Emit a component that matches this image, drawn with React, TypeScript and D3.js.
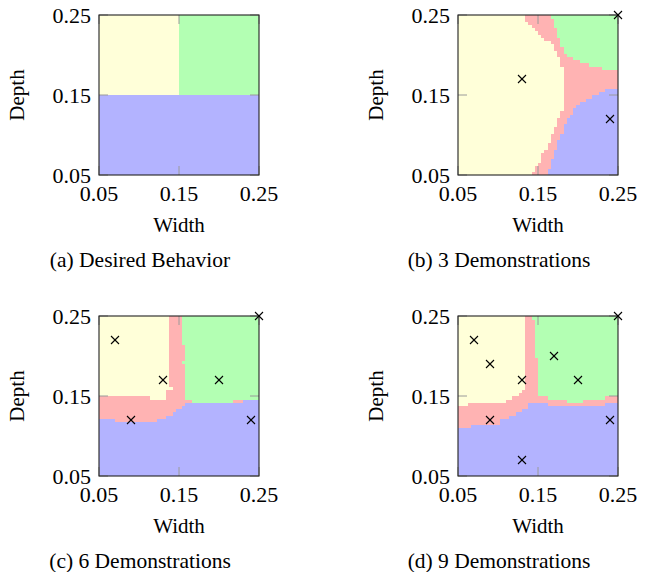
import React from 'react';
import * as d3 from 'd3';

type Pt = [number, number];

const tickValues = [0.05, 0.15, 0.25];
const tickLabels = ['0.05', '0.15', '0.25'];
const xLabel = 'Width';
const yLabel = 'Depth';
const captions = ['(a) Desired Behavior', '(b) 3 Demonstrations', '(c) 6 Demonstrations', '(d) 9 Demonstrations'];

// Region outlines (Width, Depth); anything outside them is the red "uncertain" class
const yellowA: Pt[] = [[0.05, 0.25], [0.15, 0.25], [0.15, 0.15], [0.05, 0.15]];
const greenA: Pt[] = [[0.15, 0.25], [0.25, 0.25], [0.25, 0.15], [0.15, 0.15]];
const blueA: Pt[] = [[0.05, 0.15], [0.25, 0.15], [0.25, 0.05], [0.05, 0.05]];

const yellowB: Pt[] = [[0.05, 0.25], [0.132, 0.25], [0.138, 0.241], [0.146, 0.231], [0.156, 0.222], [0.167, 0.216], [0.171, 0.208], [0.175, 0.2], [0.179, 0.191], [0.182, 0.181], [0.183, 0.17], [0.183, 0.137], [0.18, 0.129], [0.176, 0.121], [0.173, 0.114], [0.169, 0.104], [0.166, 0.096], [0.162, 0.087], [0.157, 0.079], [0.154, 0.07], [0.149, 0.062], [0.141, 0.05], [0.05, 0.05]];
const greenB: Pt[] = [[0.166, 0.25], [0.25, 0.25], [0.25, 0.182], [0.23, 0.184], [0.217, 0.187], [0.205, 0.191], [0.19, 0.197], [0.183, 0.204], [0.178, 0.216], [0.174, 0.229], [0.17, 0.241]];
const blueB: Pt[] = [[0.25, 0.05], [0.25, 0.159], [0.238, 0.159], [0.228, 0.154], [0.215, 0.147], [0.205, 0.141], [0.196, 0.133], [0.19, 0.125], [0.184, 0.112], [0.179, 0.1], [0.174, 0.087], [0.169, 0.075], [0.165, 0.062], [0.162, 0.05]];

const yellowC: Pt[] = [[0.05, 0.25], [0.137, 0.25], [0.137, 0.163], [0.141, 0.163], [0.141, 0.157], [0.134, 0.157], [0.134, 0.145], [0.113, 0.145], [0.113, 0.15], [0.05, 0.15]];
const greenC: Pt[] = [[0.154, 0.25], [0.25, 0.25], [0.25, 0.146], [0.228, 0.146], [0.228, 0.1446], [0.219, 0.1446], [0.219, 0.141], [0.179, 0.141], [0.179, 0.142], [0.167, 0.142], [0.167, 0.146], [0.159, 0.146], [0.159, 0.175], [0.158, 0.175], [0.158, 0.191], [0.154, 0.191], [0.154, 0.195], [0.158, 0.195], [0.158, 0.216], [0.154, 0.216]];
const blueC: Pt[] = [[0.05, 0.05], [0.25, 0.05], [0.25, 0.1446], [0.228, 0.1446], [0.228, 0.141], [0.159, 0.141], [0.159, 0.138], [0.154, 0.138], [0.154, 0.133], [0.148, 0.133], [0.148, 0.129], [0.141, 0.129], [0.141, 0.1246], [0.134, 0.1246], [0.134, 0.1204], [0.121, 0.1204], [0.121, 0.117], [0.071, 0.117], [0.071, 0.1204], [0.05, 0.1204]];

const yellowD: Pt[] = [[0.05, 0.25], [0.134, 0.25], [0.134, 0.157], [0.13, 0.157], [0.13, 0.154], [0.125, 0.154], [0.125, 0.15], [0.118, 0.15], [0.118, 0.1446], [0.112, 0.1446], [0.112, 0.141], [0.063, 0.141], [0.063, 0.137], [0.05, 0.137]];
const greenD: Pt[] = [[0.141, 0.25], [0.25, 0.25], [0.25, 0.15], [0.233, 0.15], [0.233, 0.1446], [0.205, 0.1446], [0.205, 0.141], [0.188, 0.141], [0.188, 0.1446], [0.163, 0.1446], [0.163, 0.15], [0.1496, 0.15], [0.1496, 0.1996], [0.146, 0.1996], [0.146, 0.2454], [0.141, 0.2454]];
const blueD: Pt[] = [[0.05, 0.05], [0.25, 0.05], [0.25, 0.141], [0.233, 0.141], [0.233, 0.138], [0.163, 0.138], [0.163, 0.141], [0.138, 0.141], [0.138, 0.133], [0.1296, 0.133], [0.1296, 0.129], [0.121, 0.129], [0.121, 0.1246], [0.113, 0.1246], [0.113, 0.1204], [0.1004, 0.1204], [0.1004, 0.116], [0.067, 0.116], [0.067, 0.112], [0.05, 0.112]];

// Demonstrations (Width, Depth)
const demosA: Pt[] = [];
const demosB: Pt[] = [[0.13, 0.17], [0.24, 0.12], [0.25, 0.25]];
const demosC: Pt[] = [[0.07, 0.22], [0.13, 0.17], [0.2, 0.17], [0.09, 0.12], [0.24, 0.12], [0.25, 0.25]];
const demosD: Pt[] = [[0.07, 0.22], [0.09, 0.19], [0.13, 0.17], [0.17, 0.2], [0.2, 0.17], [0.09, 0.12], [0.24, 0.12], [0.13, 0.07], [0.25, 0.25]];

const COLORS = { yellow: '#ffffd9', green: '#b3ffb3', blue: '#b3b3ff', red: '#ffb3b3' };

const panels = [
  { x0: 99, y0: 15, yellow: yellowA, green: greenA, blue: blueA, demos: demosA, caption: captions[0] },
  { x0: 458, y0: 15, yellow: yellowB, green: greenB, blue: blueB, demos: demosB, caption: captions[1] },
  { x0: 99, y0: 316, yellow: yellowC, green: greenC, blue: blueC, demos: demosC, caption: captions[2] },
  { x0: 458, y0: 316, yellow: yellowD, green: greenD, blue: blueD, demos: demosD, caption: captions[3] },
];

const SIZE = 160;
const GRID = 50;
const FONT = 'Liberation Serif, DejaVu Serif, Times New Roman, serif';

function Panel({ p }: { p: typeof panels[number] }) {
  const x = d3.scaleLinear().domain([0.05, 0.25]).range([p.x0, p.x0 + SIZE]);
  const y = d3.scaleLinear().domain([0.05, 0.25]).range([p.y0 + SIZE, p.y0]);
  const step = 0.2 / GRID;
  const regions: [Pt[], string][] = [[p.yellow, COLORS.yellow], [p.green, COLORS.green], [p.blue, COLORS.blue]];
  const rects: any[] = [];
  for (let j = 0; j < GRID; j++) {
    const cy = 0.05 + step * (j + 0.5);
    let runStart = 0;
    let runColor = '';
    const colorAt = (i: number) => {
      const cx = 0.05 + step * (i + 0.5);
      for (const [poly, c] of regions) if (d3.polygonContains(poly, [cx, cy])) return c;
      return COLORS.red;
    };
    for (let i = 0; i <= GRID; i++) {
      const c = i < GRID ? colorAt(i) : '';
      if (i === 0) { runColor = c; runStart = 0; continue; }
      if (c !== runColor) {
        const xa = x(0.05 + step * runStart), xb = x(0.05 + step * i);
        const ya = y(0.05 + step * (j + 1)), yb = y(0.05 + step * j);
        rects.push(<rect key={`${j}-${runStart}`} x={xa} y={ya} width={xb - xa + 0.4} height={yb - ya + 0.4} fill={runColor} shapeRendering="crispEdges" />);
        runColor = c; runStart = i;
      }
    }
  }
  const tickLen = 9;
  const bottom = p.y0 + SIZE;
  return (
    <g>
      {rects}
      {tickValues.map((t, k) => (
        <g key={`t${k}`} stroke="#9a9a9a" strokeWidth={1}>
          <line x1={x(t)} x2={x(t)} y1={bottom} y2={bottom - tickLen} />
          <line x1={x(t)} x2={x(t)} y1={p.y0} y2={p.y0 + tickLen} />
          <line x1={p.x0} x2={p.x0 + tickLen} y1={y(t)} y2={y(t)} />
          <line x1={p.x0 + SIZE} x2={p.x0 + SIZE - tickLen} y1={y(t)} y2={y(t)} />
        </g>
      ))}
      <rect x={p.x0} y={p.y0} width={SIZE} height={SIZE} fill="none" stroke="#222" strokeWidth={1.1} />
      {p.demos.map((d, k) => (
        <g key={`d${k}`} stroke="#000" strokeWidth={1.1}>
          <line x1={x(d[0]) - 4} x2={x(d[0]) + 4} y1={y(d[1]) - 4} y2={y(d[1]) + 4} />
          <line x1={x(d[0]) - 4} x2={x(d[0]) + 4} y1={y(d[1]) + 4} y2={y(d[1]) - 4} />
        </g>
      ))}
      {tickValues.map((t, k) => (
        <text key={`xl${k}`} x={x(t)} y={bottom + 26} textAnchor="middle" fontSize={22} fontFamily={FONT}>{tickLabels[k]}</text>
      ))}
      {tickValues.map((t, k) => (
        <text key={`yl${k}`} x={p.x0 - 8} y={y(t) + 7.5} textAnchor="end" fontSize={22} fontFamily={FONT}>{tickLabels[k]}</text>
      ))}
      <text x={p.x0 + SIZE / 2} y={bottom + 57} textAnchor="middle" fontSize={21} fontFamily={FONT}>{xLabel}</text>
      <text transform={`translate(${p.x0 - 75},${p.y0 + SIZE / 2}) rotate(-90)`} textAnchor="middle" fontSize={21} fontFamily={FONT}>{yLabel}</text>
      <text x={p.x0 + SIZE / 2 - 39} y={bottom + 92} textAnchor="middle" fontSize={21.5} fontFamily={FONT}>{p.caption}</text>
    </g>
  );
}

export default function App() {
  return (
    <svg width={648} height={572} style={{ position: 'absolute', left: 0, top: 0, background: '#fff' }}>
      <rect width={648} height={572} fill="#fff" />
      {panels.map((p, k) => <Panel key={k} p={p} />)}
    </svg>
  );
}
